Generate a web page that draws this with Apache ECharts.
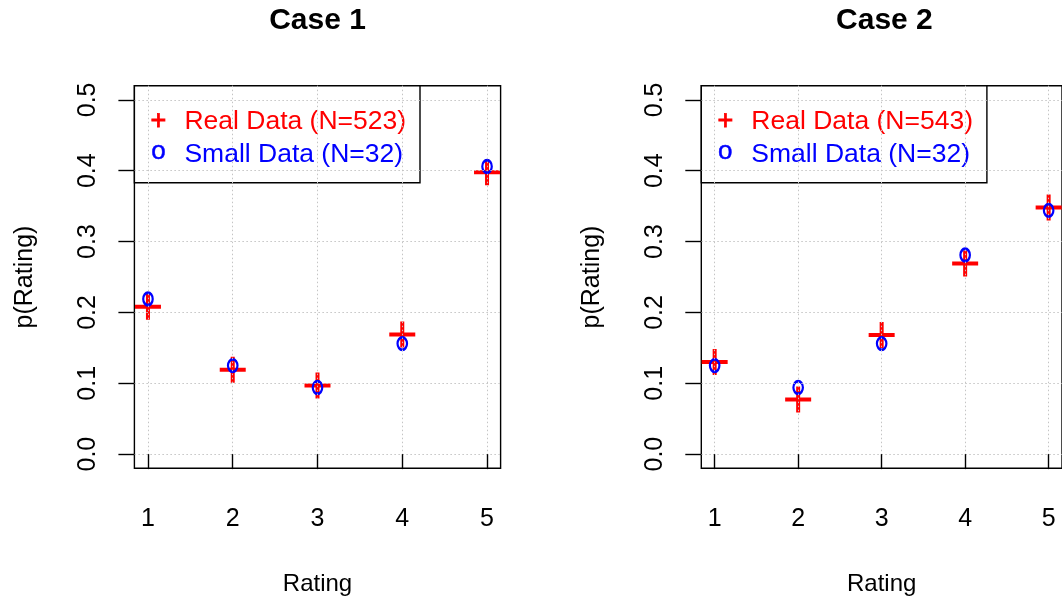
<!DOCTYPE html>
<html>
<head>
<meta charset="utf-8">
<script src="https://cdn.jsdelivr.net/npm/echarts@6/dist/echarts.min.js"></script>
<style>
  html, body { margin: 0; padding: 0; background: #ffffff; }
  #chart { width: 1062px; height: 602px; }
</style>
</head>
<body>
<div id="chart"></div>
<script>
// Rating categories and y-axis tick values
const ratings = [1, 2, 3, 4, 5];
const yTicks = [0, 0.1, 0.2, 0.3, 0.4, 0.5];

// Panel titles and sample sizes shown in the legends
const caseTitles = ['Case 1', 'Case 2'];
const realN = [523, 543];
const smallN = [32, 32];

// Proportion of each rating, per case
const realCase1 = [0.208, 0.119, 0.097, 0.169, 0.398];
const smallCase1 = [0.219, 0.125, 0.094, 0.156, 0.406];
const realCase2 = [0.130, 0.077, 0.168, 0.269, 0.348];
const smallCase2 = [0.125, 0.094, 0.156, 0.281, 0.344];

const realValues = [realCase1, realCase2];
const smallValues = [smallCase1, smallCase2];

// ---- layout ----
const FONT = '"Liberation Sans", Arial, sans-serif';
const panelLeft = [134.4, 701.3];
const plotTop = 85.7;
const plotW = 366.2;
const plotH = 382.6;
const xMin = 0.84, xMax = 5.16;
const yMin = -0.02, yMax = 0.52;

const plusPath = 'path://M0,11H26V15H0Z M11,0H15V26H11Z';
const gridLine = { color: '#c4c4c4', type: [1.5, 2.5], width: 1 };

const grids = [], xAxes = [], yAxes = [], series = [], graphics = [];

caseTitles.forEach((title, i) => {
  grids.push({
    left: panelLeft[i], top: plotTop, width: plotW, height: plotH,
    show: true, borderColor: '#000', borderWidth: 1.4, backgroundColor: 'transparent'
  });

  xAxes.push({
    type: 'value', gridIndex: i, min: xMin, max: xMax, z: 5,
    axisLine: { show: false },
    axisTick: { show: true, inside: false, length: 15, customValues: ratings,
                lineStyle: { color: '#000', width: 1.4 } },
    axisLabel: { customValues: ratings, margin: 38, fontSize: 25, color: '#000',
                 fontFamily: FONT },
    splitLine: { show: true, lineStyle: gridLine },
    name: 'Rating', nameLocation: 'middle', nameGap: 104,
    nameTextStyle: { fontSize: 24, color: '#000', fontFamily: FONT }
  });

  yAxes.push({
    type: 'value', gridIndex: i, min: yMin, max: yMax, z: 5,
    axisLine: { show: false },
    axisTick: { show: true, inside: false, length: 16, customValues: yTicks,
                lineStyle: { color: '#000', width: 1.4 } },
    axisLabel: { customValues: yTicks, rotate: 90, margin: 34, fontSize: 25,
                 color: '#000', fontFamily: FONT,
                 formatter: v => v.toFixed(1) },
    splitLine: { show: true, lineStyle: gridLine },
    name: 'p(Rating)', nameLocation: 'middle', nameGap: 97,
    nameTextStyle: { fontSize: 25, color: '#000', fontFamily: FONT }
  });

  series.push({
    name: 'Real Data', type: 'scatter', xAxisIndex: i, yAxisIndex: i, z: 2,
    symbol: plusPath, symbolSize: 26,
    itemStyle: { color: '#ff0000', opacity: 1 },
    data: ratings.map((r, k) => [r, realValues[i][k]])
  });
  series.push({
    name: 'Small Data', type: 'scatter', xAxisIndex: i, yAxisIndex: i, z: 3,
    symbol: 'circle', symbolSize: [9.5, 12.5],
    itemStyle: { color: 'rgba(0,0,0,0)', borderColor: '#0000ff', borderWidth: 2.5, opacity: 1 },
    data: ratings.map((r, k) => [r, smallValues[i][k]])
  });

  // panel title
  graphics.push({
    type: 'text', x: panelLeft[i] + plotW / 2, y: 21, z: 20,
    style: { text: title, align: 'center', verticalAlign: 'middle',
             font: 'bold 30px ' + FONT, fill: '#000' }
  });

  // legend box in the top-left corner of the panel
  const lx = panelLeft[i];
  graphics.push({
    type: 'group', z: 20,
    children: [
      { type: 'rect', shape: { x: lx, y: plotTop, width: 285.6, height: 97 },
        style: { fill: '#ffffff', stroke: '#000', lineWidth: 1.4 } },
      { type: 'text', x: lx + 24, y: 121.5,
        style: { text: '+', align: 'center', verticalAlign: 'middle',
                 font: '27px ' + FONT, fill: '#ff0000', stroke: '#ff0000', lineWidth: 0.8 } },
      { type: 'text', x: lx + 50, y: 121.5,
        style: { text: 'Real Data (N=' + realN[i] + ')', align: 'left', verticalAlign: 'middle',
                 font: '26.5px ' + FONT, fill: '#ff0000' } },
      { type: 'text', x: lx + 24, y: 151.5,
        style: { text: 'o', align: 'center', verticalAlign: 'middle',
                 font: '26px ' + FONT, fill: '#0000ff', stroke: '#0000ff', lineWidth: 0.5 } },
      { type: 'text', x: lx + 50, y: 154.5,
        style: { text: 'Small Data (N=' + smallN[i] + ')', align: 'left', verticalAlign: 'middle',
                 font: '26.5px ' + FONT, fill: '#0000ff' } }
    ]
  });
});

const chart = echarts.init(document.getElementById('chart'), null, { renderer: 'canvas' });
chart.setOption({
  animation: false,
  backgroundColor: '#ffffff',
  grid: grids,
  xAxis: xAxes,
  yAxis: yAxes,
  series: series,
  graphic: graphics
});
</script>
</body>
</html>
